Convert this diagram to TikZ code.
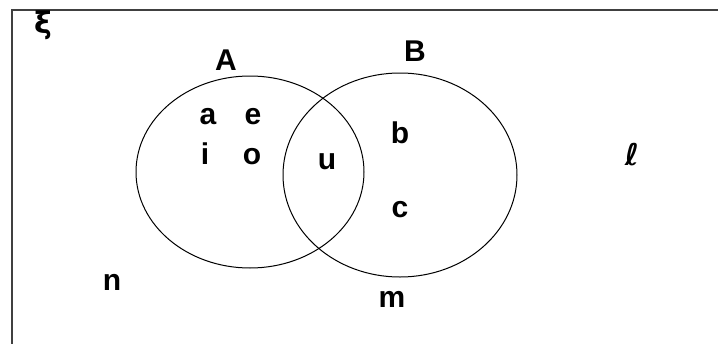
\documentclass[tikz,border=0pt]{standalone}
\usepackage{fontspec}
\usetikzlibrary{shapes.geometric}
\setmainfont{Liberation Sans}
\newfontfamily\symfont{DejaVu Sans}
\begin{document}
\begin{tikzpicture}[x=1pt,y=-1pt,
  lbl/.style={font=\fontsize{30}{32}\selectfont\bfseries, inner sep=0pt},
  setline/.style={draw=black, line width=1pt},
  framel/.style={draw=black!75, line width=2pt}]
\useasboundingbox (0,0) rectangle (718,343);
\draw[framel] (12,350) coordinate (fbl) -- (12,9.5) coordinate (ftl) -- (730,9.5) coordinate (ftr);
\node[setline, ellipse, minimum width=228pt, minimum height=192pt, inner sep=0pt] (A) at (250,172) {};
\node[setline, ellipse, minimum width=234pt, minimum height=204pt, inner sep=0pt] (B) at (400,175) {};
\node[lbl] (xi) at (43,25) {\symfont\bfseries ξ};
\node[lbl] (la) at (226,60) {A};
\node[lbl] (lb) at (415,51) {B};
\node[lbl] (a) at (208,117) {a};
\node[lbl] (e) at (253,117) {e};
\node[lbl] (i) at (205,154) {i};
\node[lbl] (o) at (252,157) {o};
\node[lbl] (u) at (327,162) {u};
\node[lbl] (b) at (400,133) {b};
\node[lbl] (c) at (400,210) {c};
\node[lbl] (ell) at (632,155) {\symfont\bfseries\itshape ℓ};
\node[lbl] (n) at (112,282) {n};
\node[lbl] (m) at (392,299) {m};
\end{tikzpicture}
\end{document}
